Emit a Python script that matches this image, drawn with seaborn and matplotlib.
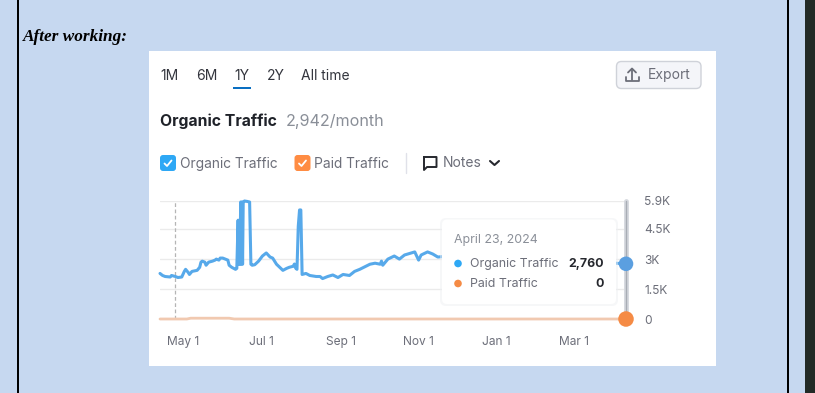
import matplotlib
matplotlib.use("Agg")
import matplotlib.pyplot as plt
from matplotlib.patches import FancyBboxPatch, Rectangle, Circle
import pandas as pd
import seaborn as sns

# Values (days counted from May 1, 2023)
start_date = "2023-05-01"
organic_days = [-18, -16, -14, -10, -9, -6, -4, -1, 1, 2, 4, 5, 7, 11, 13, 14, 15, 17, 18, 20, 23, 25, 26, 28, 29, 31,
                33, 35, 36, 38, 41, 42, 43, 43.5, 44, 44.5, 45, 45.5, 46, 46.5, 47, 48, 50, 52, 53, 54, 56, 59, 62, 65,
                68, 70, 73, 78, 81, 83, 86, 87, 88, 89, 90, 91, 92, 93, 96, 99, 104, 107, 109, 113, 117, 121, 125, 130,
                134, 138, 146, 150, 154, 155, 156, 160, 165, 169, 173, 181, 184, 186, 191, 195, 199, 208, 230, 260,
                300, 335, 346]
organic_values = [2278, 2176, 2125, 2100, 2176, 2125, 2074, 2100, 2380, 2483, 2330, 2227, 2380, 2432, 2586, 2842, 2893,
                  2842, 2688, 2842, 2893, 2944, 2995, 2944, 3046, 3046, 2995, 2944, 2688, 2586, 2483, 2534, 4941, 2739,
                  4941, 2739, 5850, 2739, 5850, 2739, 5850, 5900, 5880, 5850, 2739, 2688, 2714, 2893, 3149, 3302, 3098,
                  3046, 2739, 2432, 2534, 2586, 2637, 2750, 2540, 2483, 4634, 5453, 5453, 2227, 2278, 2176, 2125, 2125,
                  2022, 2125, 2202, 2074, 2227, 2176, 2380, 2483, 2739, 2790, 2739, 2893, 2688, 2995, 3149, 2995, 3200,
                  3354, 2944, 3200, 3354, 3251, 3098, 3150, 3000, 2900, 2850, 2800, 2760]
paid_days = [-18, 3, 6, 36, 40, 346]
paid_values = [0, 0, 40, 40, 0, 0]

y_ticks = [0, 1500, 3000, 4500, 5900]
y_labels = ["0", "1.5K", "3K", "4.5K", "5.9K"]
x_tick_dates = ["2023-05-01", "2023-07-01", "2023-09-01", "2023-11-01", "2024-01-01", "2024-03-01"]
x_labels = ["May 1", "Jul 1", "Sep 1", "Nov 1", "Jan 1", "Mar 1"]
tabs = ["1M", "6M", "1Y", "2Y", "All time"]
tab_x = [160, 196, 234, 267, 301]

W, H = 815, 393
BG = "#c6d8f0"
BLUE = "#57a9ea"
ORANGE = "#f58b45"
GREY = "#6c6e79"

sns.set_theme(style="white")
plt.rcParams["font.family"] = ["Inter", "DejaVu Sans"]

base = pd.Timestamp(start_date)
organic = pd.DataFrame({"date": base + pd.to_timedelta(organic_days, unit="D"), "traffic": organic_values})
paid = pd.DataFrame({"date": base + pd.to_timedelta(paid_days, unit="D"), "traffic": paid_values})

fig = plt.figure(figsize=(W / 100, H / 100), dpi=100, facecolor=BG)

# page behind the chart, in pixel coordinates
page = fig.add_axes([0, 0, 1, 1], zorder=0)
page.set_xlim(0, W)
page.set_ylim(H, 0)
page.axis("off")
page.add_patch(Rectangle((149, 51), 567, 315, fc="white", ec="none"))
page.add_patch(Rectangle((16.5, 0), 2, H, fc="black", ec="none"))
page.add_patch(Rectangle((786.5, 0), 2, H, fc="black", ec="none"))
page.add_patch(Rectangle((805, 0), 10, H, fc="#222a26", ec="none"))
page.text(23, 37, "After working:", family="Liberation Serif", weight="bold", style="italic", fontsize=12.4,
          color="black", va="center")

# the chart itself
ax = fig.add_axes([160 / W, 1 - 319 / H, (626 - 160) / W, (319 - 201) / H], zorder=1)
ax.patch.set_alpha(0)
for v in y_ticks:
    ax.axhline(v, color="#ebebeb", lw=1, zorder=0)
ax.axvline(base - pd.Timedelta(days=6), color="#b5b5b5", lw=0.9, ls=(0, (3, 2)))
ax.axvline(organic["date"].iloc[-1], color="#d5d8de", lw=3.5, clip_on=False)
ax.axvline(organic["date"].iloc[-1], color="#a8adb5", lw=1, clip_on=False)

sns.lineplot(data=organic, x="date", y="traffic", color=BLUE, lw=2.2, ax=ax, clip_on=False)
sns.lineplot(data=paid, x="date", y="traffic", color="#f1c9b0", lw=2, ax=ax, clip_on=False)
sns.scatterplot(data=organic.tail(1), x="date", y="traffic", color="#5b9fe0", s=110, ax=ax, clip_on=False,
                edgecolor="none", zorder=5)
sns.scatterplot(data=paid.tail(1), x="date", y="traffic", color=ORANGE, s=125, ax=ax, clip_on=False,
                edgecolor="none", zorder=5)

ax.set_xlim(base - pd.Timedelta(days=18), base + pd.Timedelta(days=346))
ax.set_ylim(0, 5900)
ax.set_yticks(y_ticks, y_labels)
ax.set_xticks(pd.to_datetime(x_tick_dates), x_labels)
ax.yaxis.tick_right()
ax.set_xlabel("")
ax.set_ylabel("")
ax.tick_params(axis="y", length=0, pad=13, labelsize=8.6, labelcolor=GREY)
ax.tick_params(axis="x", length=0, pad=12, labelsize=8.6, labelcolor=GREY)
for s in ax.spines.values():
    s.set_visible(False)

# controls and tooltip on top
top = fig.add_axes([0, 0, 1, 1], zorder=2)
top.set_xlim(0, W)
top.set_ylim(H, 0)
top.axis("off")
top.patch.set_alpha(0)

for name, x in zip(tabs, tab_x):
    top.text(x, 75.5, name, fontsize=10, color="#33353d", va="center")
top.add_patch(Rectangle((233, 87), 18, 2.4, fc="#0a6fc2", ec="none"))

top.text(160, 121.5, "Organic Traffic", fontsize=11.3, weight="bold", color="#1f2229", va="center")
top.text(286, 121.5, "2,942/month", fontsize=11.6, color="#8a8f98", va="center")

top.add_patch(FancyBboxPatch((616.5, 61.5), 84.5, 27, boxstyle="round,pad=0,rounding_size=5", fc="#f4f5f9",
                             ec="#cfd2d9", lw=1))
top.plot([632, 632], [80, 69], color=GREY, lw=1.3)
top.plot([628, 632, 636], [72.5, 68.5, 72.5], color=GREY, lw=1.3)
top.plot([625.5, 625.5, 638.5, 638.5], [77, 81, 81, 77], color=GREY, lw=1.3)
top.text(648, 75.5, "Export", fontsize=10, color=GREY, va="center")


def checkbox(x, color):
    top.add_patch(FancyBboxPatch((x, 155), 16, 16, boxstyle="round,pad=0,rounding_size=3", fc=color, ec="none"))
    top.plot([x + 4.5, x + 7, x + 11.5], [163.5, 166, 160.5], color="white", lw=1.3)


checkbox(160, "#2ea8f5")
top.text(180, 164, "Organic Traffic", fontsize=9.9, color=GREY, va="center")
checkbox(294.5, "#ff8c43")
top.text(314, 164, "Paid Traffic", fontsize=9.9, color=GREY, va="center")
top.plot([405.5, 405.5], [153, 173], color="#e0e1e9", lw=1)

# notes icon and chevron
top.plot([424, 436.5, 436.5, 427, 424, 424], [157, 157, 167, 167, 170, 157], color="#26282e", lw=1.4)
top.text(443, 163, "Notes", fontsize=10, color=GREY, va="center")
top.plot([490, 494.5, 499], [161, 165, 161], color="#26282e", lw=1.5)

# tooltip
top.add_patch(FancyBboxPatch((440, 218), 178, 88, boxstyle="round,pad=0,rounding_size=6", fc="#eef0f3", ec="none",
                             alpha=0.5))
top.add_patch(FancyBboxPatch((442, 219.5), 174, 84.5, boxstyle="round,pad=0,rounding_size=5", fc="white", ec="none"))
top.text(454, 240, "April 23, 2024", fontsize=8.9, color="#8a8f98", va="center")
top.add_patch(Circle((458, 263.5), 3.8, fc="#2ea8f5", ec="none"))
top.add_patch(Circle((458, 283.5), 3.8, fc=ORANGE, ec="none"))
top.text(470, 264, "Organic Traffic", fontsize=8.9, color=GREY, va="center")
top.text(470, 284, "Paid Traffic", fontsize=8.9, color=GREY, va="center")
top.text(604, 264, "2,760", fontsize=8.9, weight="bold", color="#26282e", va="center", ha="right")
top.text(604, 284, "0", fontsize=8.9, weight="bold", color="#26282e", va="center", ha="right")

fig.savefig("out.png", dpi=100, facecolor=BG)
